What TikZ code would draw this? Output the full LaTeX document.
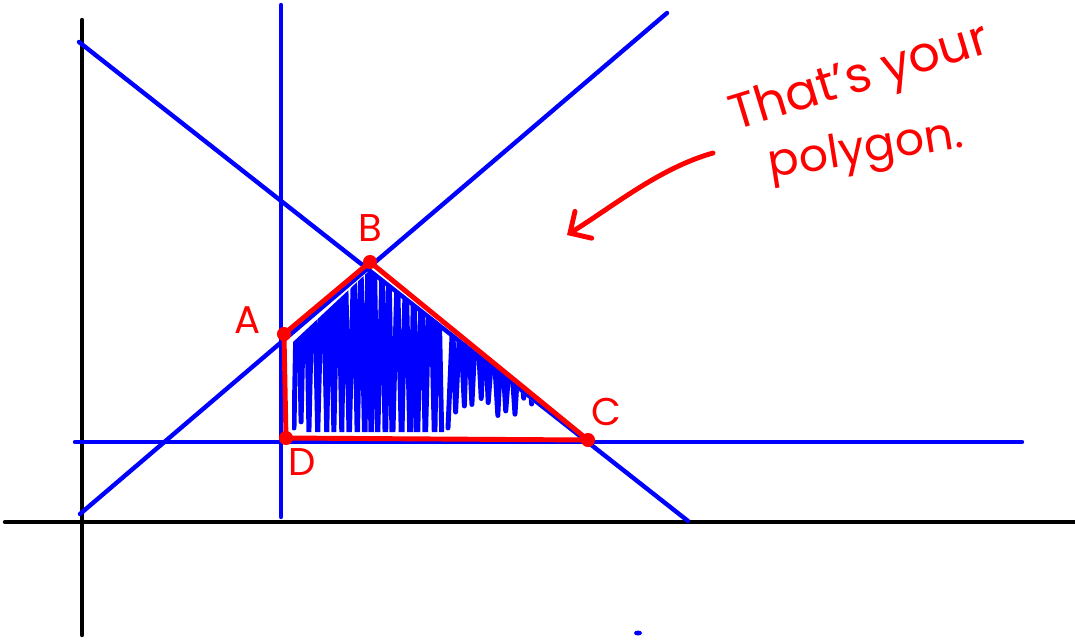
\documentclass[tikz,border=0pt]{standalone}
\usepackage{fontspec}
\setmainfont{Poppins}
\usetikzlibrary{arrows.meta}

\begin{document}
\begin{tikzpicture}[
    x=0.02cm, y=-0.02cm,
    axis/.style={draw=black, line width=2.5pt, line cap=round},
    guide/.style={draw=blue, line width=2.5pt, line cap=round},
    edge/.style={draw=red, line width=2.8pt, line cap=round, line join=round},
    vertex/.style={circle, fill=red, inner sep=0pt, minimum size=8pt},
    tag/.style={text=red, font=\fontsize{22}{22}\selectfont},
    note/.style={text=red, font=\fontsize{28}{32}\selectfont},
    scribble/.style={draw=blue, line width=2.8pt, line cap=round, line join=round},
    pointer/.style={draw=red, line width=2.8pt, line cap=round, -{Straight Barb[length=9pt, width=18pt, line cap=round]}}
  ]
    \useasboundingbox (0,0) rectangle (1075,639);
    \pgfmathsetseed{11}

    % Axes
    \coordinate (ybot) at (82,635);
    \coordinate (ytop) at (82,20);
    \coordinate (xl) at (5,522);
    \coordinate (xr) at (1075,522);
    \draw[axis] (ybot) -- (ytop);
    \draw[axis] (xl) -- (xr);

    % Constraint lines
    \coordinate (v1) at (281,517);
    \coordinate (v2) at (281,5);
    \coordinate (h1) at (75,442);
    \coordinate (h2) at (1022,442);
    \coordinate (d1) at (79,42);
    \coordinate (d2) at (688,521);
    \coordinate (u1) at (80,514);
    \coordinate (u2) at (667,13);
    \draw[guide] (v1) -- (v2);
    \draw[guide] (h1) -- (h2);
    \draw[guide] (d1) -- (d2);
    \draw[guide] (u1) -- (u2);

    % Polygon vertices
    \coordinate (A) at (284,334);
    \coordinate (B) at (370,262);
    \coordinate (C) at (588,440);
    \coordinate (D) at (286,438);

    % Shading
    \begin{scope}
      \clip (292,343) -- (370,270) -- (570,432) -- (292,432) -- cycle;
      \draw[scribble] (294,428) \foreach \i in {1,...,19} { -- ++({3+2*rnd},{-185-20*rnd}) -- ++({3+2*rnd},{185+20*rnd}) };
      \draw[scribble] (448,428) \foreach \i in {1,...,14} { -- ++({3+2*rnd},{-(95-5*\i)-20*rnd}) -- ++({3+2*rnd},{(95-5*\i)+20*rnd}) };
    \end{scope}

    % Polygon
    \draw[edge] (A) -- (B) -- (C) -- (D) -- cycle;
    \foreach \p in {A,B,C,D} \node[vertex] at (\p) {};

    % Labels
    \node[tag] (lA) at (248,320) {A};
    \node[tag] (lB) at (370,228) {B};
    \node[tag] (lC) at (606,412) {C};
    \node[tag] (lD) at (302,462) {D};

    % Annotation
    \node[note, rotate=17] (msg1) at (860,80) {That's your};
    \node[note, rotate=9, font=\fontsize{26}{30}\selectfont] (msg2) at (866,152) {polygon.};
    \coordinate (tail) at (713,153);
    \coordinate (tip) at (567,235);
    \draw[pointer] (tail) .. controls (660,168) and (615,205) .. (tip);

    % Stray dot
    \fill[blue] (638,633) ellipse (4 and 2.5);

  \end{tikzpicture}
\end{document}
